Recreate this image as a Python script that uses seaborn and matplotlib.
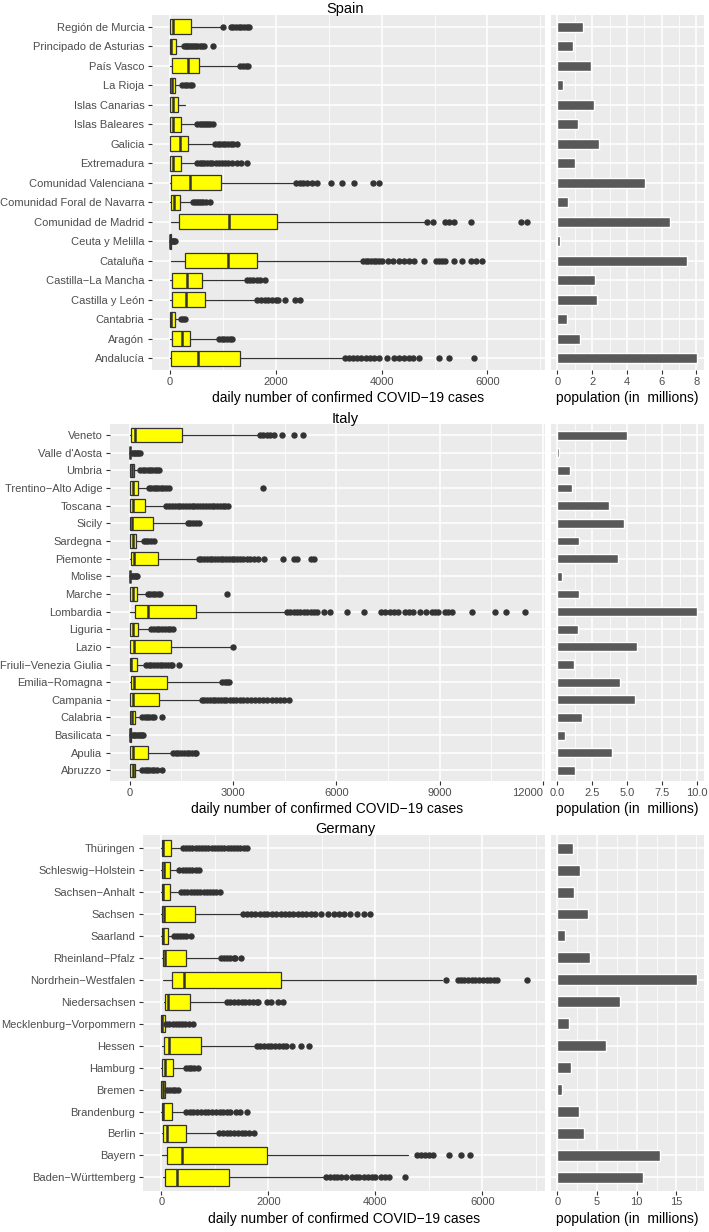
import numpy as np
import pandas as pd
import matplotlib
matplotlib.use("Agg")
import matplotlib.pyplot as plt
import seaborn as sns
from matplotlib.ticker import MultipleLocator, FormatStrFormatter

# ---------------- Spain (top to bottom) ----------------
names_es = ["Región de Murcia", "Principado de Asturias", "País Vasco", "La Rioja",
            "Islas Canarias", "Islas Baleares", "Galicia", "Extremadura",
            "Comunidad Valenciana", "Comunidad Foral de Navarra", "Comunidad de Madrid",
            "Ceuta y Melilla", "Cataluña", "Castilla−La Mancha", "Castilla y León",
            "Cantabria", "Aragón", "Andalucía"]
wlo_es = [0, 0, 5, 0, 0, 0, 5, 0, 10, 0, 13, 0, 13, 10, 10, 0, 10, 10]
q1_es = [5, 5, 38, 5, 5, 5, 10, 5, 25, 13, 170, 0, 295, 45, 32, 3, 32, 25]
med_es = [65, 30, 338, 40, 63, 63, 200, 63, 388, 75, 1120, 5, 1095, 326, 307, 20, 220, 525]
q3_es = [390, 120, 545, 100, 163, 213, 338, 213, 965, 200, 2015, 15, 1640, 608, 670, 88, 375, 1326]
whi_es = [960, 250, 1300, 200, 295, 500, 825, 500, 2358, 420, 4797, 30, 3609, 1452, 1640, 170, 920, 3265]
fliers_es = [
    [1000, 1150, 1200, 1250, 1300, 1350, 1400, 1450, 1500],
    [270, 300, 330, 360, 400, 440, 480, 520, 560, 600, 640, 820],
    [1330, 1380, 1430, 1480],
    [230, 280, 330, 380, 420],
    [],
    [520, 560, 600, 640, 680, 720, 760, 810],
    [860, 900, 950, 1000, 1050, 1100, 1150, 1200, 1270],
    [520, 560, 600, 650, 700, 760, 800, 870, 920, 980, 1040, 1100, 1180, 1260, 1340, 1450],
    [2380, 2450, 2520, 2600, 2680, 2780, 3050, 3260, 3480, 3830, 3950],
    [430, 470, 510, 550, 590, 630, 680, 750],
    [4860, 4980, 5200, 5280, 5360, 5690, 6640, 6750],
    [40, 60, 80, 100],
    [3650, 3700, 3750, 3800, 3850, 3900, 3950, 4000, 4120, 4220, 4320, 4420, 4520, 4620,
     4800, 5020, 5080, 5140, 5200, 5360, 5520, 5680, 5790, 5890],
    [1460, 1520, 1580, 1640, 1700, 1790],
    [1650, 1720, 1790, 1860, 1930, 2000, 2040, 2180, 2360, 2450],
    [210, 250, 290],
    [930, 980, 1030, 1080, 1130, 1180],
    [3300, 3380, 3460, 3540, 3620, 3700, 3780, 3860, 3950, 4110, 4240, 4330, 4420, 4510,
     4600, 4700, 5080, 5270, 5750],
]
pop_es = [1.49, 0.92, 1.93, 0.31, 2.11, 1.17, 2.41, 1.00, 5.07, 0.63, 6.47, 0.12, 7.48,
          2.16, 2.26, 0.56, 1.28, 8.04]

# ---------------- Italy ----------------
names_it = ["Veneto", "Valle d'Aosta", "Umbria", "Trentino−Alto Adige", "Toscana", "Sicily",
            "Sardegna", "Piemonte", "Molise", "Marche", "Lombardia", "Liguria", "Lazio",
            "Friuli−Venezia Giulia", "Emilia−Romagna", "Campania", "Calabria", "Basilicata",
            "Apulia", "Abruzzo"]
wlo_it = [0, 0, 0, 0, 0, 0, 0, 0, 0, 0, 5, 0, 5, 0, 5, 0, 0, 0, 0, 0]
q1_it = [25, 0, 0, 0, 0, 0, 0, 25, 0, 0, 150, 0, 5, 0, 35, 0, 0, 0, 0, 0]
med_it = [150, 5, 64, 84, 84, 55, 84, 130, 5, 84, 517, 100, 121, 36, 121, 101, 55, 5, 101, 84]
q3_it = [1530, 20, 130, 228, 440, 679, 180, 824, 15, 217, 1913, 246, 1210, 217, 1095, 844,
         150, 22, 517, 150]
whi_it = [3763, 50, 295, 535, 1046, 1662, 390, 1980, 45, 517, 4552, 604, 2950, 460, 2673,
          2078, 344, 50, 1240, 344]
fliers_it = [
    [3780, 3880, 3980, 4080, 4180, 4430, 4770, 5040],
    [70, 110, 150, 200, 250, 290],
    [310, 380, 450, 520, 590, 660, 730, 800, 850],
    [550, 620, 690, 760, 830, 900, 970, 1040, 1140, 3860],
    [1060, 1140, 1220, 1300, 1390, 1470, 1560, 1640, 1720, 1800, 1880, 1960, 2050, 2130,
     2210, 2300, 2380, 2460, 2540, 2620, 2700, 2780, 2840],
    [1680, 1760, 1840, 1920, 2000],
    [400, 470, 540, 610, 690],
    [2000, 2080, 2160, 2240, 2320, 2400, 2480, 2560, 2640, 2720, 2800, 2880, 2960, 3040,
     3120, 3200, 3300, 3400, 3500, 3620, 3740, 3900, 4440, 4770, 4870, 5260, 5350],
    [60, 100, 140, 180, 215],
    [530, 600, 670, 740, 810, 890, 2830],
    [4560, 4660, 4760, 4860, 4960, 5060, 5160, 5260, 5360, 5440, 5650, 5810, 6320, 6800,
     7290, 7420, 7550, 7680, 7800, 8000, 8100, 8240, 8440, 8600, 8780, 8870, 8960, 9160,
     9250, 9350, 9930, 10620, 10940, 11490],
    [620, 700, 780, 860, 940, 1020, 1100, 1180, 1250],
    [3000],
    [470, 550, 630, 710, 790, 870, 950, 1030, 1110, 1190, 1240, 1430],
    [2690, 2760, 2830, 2880],
    [2090, 2170, 2250, 2330, 2410, 2490, 2570, 2650, 2730, 2810, 2900, 3000, 3100, 3200,
     3300, 3400, 3520, 3640, 3760, 3880, 4000, 4120, 4240, 4360, 4480, 4620],
    [360, 430, 500, 570, 640, 700, 940],
    [60, 110, 160, 210, 260, 310, 360, 390],
    [1250, 1330, 1410, 1490, 1570, 1650, 1730, 1810, 1890, 1930],
    [360, 430, 500, 570, 640, 710, 790, 940],
]
pop_it = [4.96, 0.10, 0.90, 1.07, 3.67, 4.76, 1.57, 4.33, 0.29, 1.57, 10.0, 1.48, 5.67, 1.21,
          4.50, 5.57, 1.79, 0.53, 3.89, 1.29]

# ---------------- Germany ----------------
names_de = ["Thüringen", "Schleswig−Holstein", "Sachsen−Anhalt", "Sachsen", "Saarland",
            "Rheinland−Pfalz", "Nordrhein−Westfalen", "Niedersachsen",
            "Mecklenburg−Vorpommern", "Hessen", "Hamburg", "Bremen", "Brandenburg",
            "Berlin", "Bayern", "Baden−Württemberg"]
wlo_de = [0, 0, 0, 0, 0, 15, 37, 49, 0, 15, 0, 0, 0, 15, 15, 30]
q1_de = [5, 10, 5, 10, 5, 30, 204, 61, 0, 49, 18, 0, 5, 30, 98, 67]
med_de = [37, 43, 37, 49, 37, 61, 433, 123, 18, 142, 67, 30, 37, 111, 390, 297]
q3_de = [185, 155, 155, 637, 122, 464, 2230, 532, 61, 749, 210, 67, 204, 464, 1969, 1275]
whi_de = [390, 327, 359, 1523, 235, 1102, 5250, 1207, 80, 1771, 451, 98, 451, 1071, 4619, 3071]
fliers_de = [
    [400, 460, 520, 580, 640, 700, 760, 820, 880, 940, 1000, 1060, 1120, 1180, 1240, 1300,
     1360, 1420, 1480, 1540, 1610],
    [340, 400, 460, 520, 580, 640, 710],
    [370, 430, 490, 550, 610, 670, 730, 790, 850, 910, 970, 1030, 1100],
    [1530, 1600, 1680, 1760, 1840, 1920, 1970, 2070, 2150, 2230, 2310, 2390, 2470, 2550,
     2630, 2710, 2790, 2870, 2990, 3120, 3220, 3320, 3420, 3520, 3650, 3780, 3900],
    [245, 300, 355, 410, 465, 560],
    [1110, 1170, 1230, 1290, 1350, 1380, 1490],
    [5330, 5540, 5600, 5660, 5730, 5800, 5870, 5940, 6010, 6080, 6150, 6220, 6270, 6830],
    [1220, 1290, 1360, 1430, 1500, 1570, 1640, 1710, 1780, 1810, 1970, 2060, 2190, 2280],
    [90, 150, 210, 270, 330, 390, 450, 510, 590],
    [1780, 1850, 1920, 1990, 2060, 2130, 2200, 2270, 2340, 2450, 2610, 2770],
    [460, 510, 560, 620, 680],
    [110, 160, 210, 260, 320],
    [460, 530, 600, 670, 740, 810, 880, 950, 1020, 1090, 1160, 1230, 1290, 1390, 1480, 1600],
    [1080, 1150, 1220, 1290, 1360, 1430, 1500, 1570, 1640, 1740],
    [4780, 4850, 4920, 5000, 5070, 5380, 5610, 5770],
    [3080, 3150, 3220, 3290, 3360, 3450, 3560, 3640, 3700, 3780, 3860, 3940, 3990, 4110,
     4180, 4260, 4550],
]
pop_de = [2.01, 2.85, 2.10, 3.90, 0.97, 4.11, 17.6, 7.89, 1.51, 6.08, 1.72, 0.63, 2.73,
          3.32, 12.92, 10.74]

# ---------------- style ----------------
sns.set_theme(style="darkgrid", rc={"axes.facecolor": "#EBEBEB", "grid.color": "white"})
plt.rcParams['font.family'] = ['Liberation Sans', 'DejaVu Sans']

W, H = 709, 1232
fig = plt.figure(figsize=(W / 100, H / 100), dpi=100)
fig.patch.set_facecolor("white")

TICK_COL = "#4D4D4D"


def px_axes(l, t, r, b):
    return fig.add_axes([l / W, 1 - b / H, (r - l) / W, (b - t) / H])


def style_axis(ax, major, minor):
    ax.xaxis.set_major_locator(MultipleLocator(major))
    ax.xaxis.set_minor_locator(MultipleLocator(minor))
    ax.grid(True, which="major", color="white", lw=1.1)
    ax.grid(True, which="minor", axis="x", color="white", lw=0.55)
    ax.set_axisbelow(True)
    for s in ax.spines.values():
        s.set_visible(False)
    ax.tick_params(axis="x", which="major", length=3, width=0.8, color="#333333",
                   pad=2, labelsize=8, labelcolor=TICK_COL, bottom=True)
    ax.tick_params(axis="x", which="minor", length=0)


def draw_country(title, names, wlo, q1, med, q3, whi, fliers, pop,
                 top, bottom, box_left, box_major, box_minor, bar_major, bar_minor, bar_fmt,
                 last_right=False):
    n = len(names)
    axb = px_axes(box_left, top, 545, bottom)
    axp = px_axes(550.5, top, 704, bottom)

    stats = [dict(whislo=a, q1=b, med=c, q3=d, whishi=e, fliers=f)
             for a, b, c, d, e, f in zip(wlo, q1, med, q3, whi, fliers)]
    axb.bxp(stats, positions=np.arange(n), orientation="horizontal", widths=0.75,
            patch_artist=True, showcaps=False,
            boxprops=dict(facecolor="#FFFF00", edgecolor="#333333", lw=0.9),
            medianprops=dict(color="#333333", lw=1.8),
            whiskerprops=dict(color="#333333", lw=0.9),
            flierprops=dict(marker="o", markerfacecolor="#333333", markeredgecolor="#333333",
                            markersize=3.6, linestyle="none"))
    allv = [v for f in fliers for v in f] + list(whi)
    mx = max(allv)
    axb.set_xlim(-0.05 * mx, 1.05 * mx)
    axb.set_ylim(n - 1 + 0.6, -0.6)
    axb.set_yticks(np.arange(n))
    axb.set_yticklabels(names)
    style_axis(axb, box_major, box_minor)
    axb.tick_params(axis="y", length=3, width=0.8, color="#333333", pad=2.5,
                    labelsize=8, labelcolor=TICK_COL, left=True)
    axb.xaxis.set_major_formatter(FormatStrFormatter("%d"))
    axb.set_xlabel("daily number of confirmed COVID−19 cases", fontsize=10,
                   color="black", labelpad=3)
    if last_right:
        # keep the last tick label clear of the bar panel's first label
        ticks = np.arange(0, 1.05 * mx, box_major)
        axb.set_xticks(ticks)
        axb.xaxis.get_major_ticks()[-1].label1.set_horizontalalignment("right")

    df = pd.DataFrame({"region": names, "pop": pop})
    sns.barplot(data=df, x="pop", y="region", orient="h", color="#595959",
                saturation=1, width=0.5, ax=axp)
    pmx = max(pop)
    axp.set_xlim(-0.05 * pmx, 1.05 * pmx)
    axp.set_ylim(n - 1 + 0.6, -0.6)
    style_axis(axp, bar_major, bar_minor)
    axp.yaxis.grid(True, which="major", color="white", lw=1.1)
    axp.tick_params(axis="y", left=False, labelleft=False)
    axp.set_ylabel("")
    axp.xaxis.set_major_formatter(FormatStrFormatter(bar_fmt))
    axp.set_xlabel("population (in  millions)", fontsize=10, color="black", labelpad=3)

    fig.text(345 / W, 1 - (top - 6) / H, title, ha="center", va="center",
             fontsize=10.5, color="black")


draw_country("Spain", names_es, wlo_es, q1_es, med_es, q3_es, whi_es, fliers_es, pop_es,
             15, 370, 152, 2000, 1000, 2, 1, "%d")
draw_country("Italy", names_it, wlo_it, q1_it, med_it, q3_it, whi_it, fliers_it, pop_it,
             424.5, 781, 110, 3000, 1500, 2.5, 1.25, "%.1f", last_right=True)
draw_country("Germany", names_de, wlo_de, q1_de, med_de, q3_de, whi_de, fliers_de, pop_de,
             835, 1190.5, 143, 2000, 1000, 5, 2.5, "%d")

fig.savefig("out.png", dpi=100)
